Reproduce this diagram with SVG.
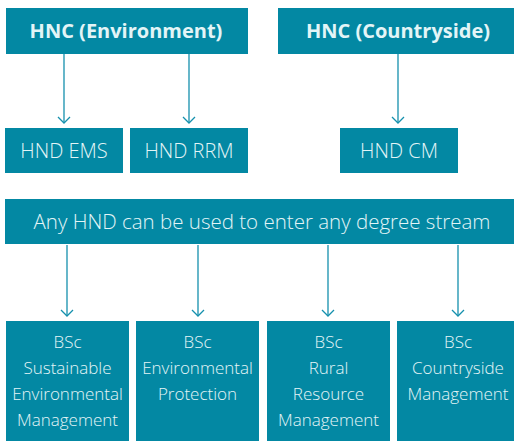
<svg xmlns="http://www.w3.org/2000/svg" width="514" height="441" viewBox="0 0 514 441">
<defs>
<style>
.box{fill:#0388a3}
.t{font-family:"Open Sans","Noto Sans","Liberation Sans",sans-serif;fill:#e3f5f7;text-anchor:middle;font-size:20px;font-weight:300}
.b{font-weight:bold;font-size:20px}
.s{font-size:17px}
.c{stroke:#1590ad;stroke-width:1.3;fill:none}
</style>
</defs>
<rect width="514" height="441" fill="#ffffff"/>
<g id="connectors">
<path class="c" d="M64,54 V123"/>
<path class="c" d="M58,117 L64,123 L70,117"/>
<path class="c" d="M189,54 V123"/>
<path class="c" d="M183,117 L189,123 L195,117"/>
<path class="c" d="M398,54 V123"/>
<path class="c" d="M392,117 L398,123 L404,117"/>
<path class="c" d="M67,245 V316"/>
<path class="c" d="M61,310 L67,316 L73,310"/>
<path class="c" d="M198,245 V316"/>
<path class="c" d="M192,310 L198,316 L204,310"/>
<path class="c" d="M328,245 V316"/>
<path class="c" d="M322,310 L328,316 L334,310"/>
<path class="c" d="M458,245 V316"/>
<path class="c" d="M452,310 L458,316 L464,310"/>
</g>
<g id="hnc-env"><rect class="box" x="6" y="8" width="242" height="46"/><text class="t b" x="126" y="38">HNC (Environment)</text></g>
<g id="hnc-country"><rect class="box" x="278" y="8" width="236" height="46"/><text class="t b" x="398" y="38">HNC (Countryside)</text></g>
<g id="hnd-ems"><rect class="box" x="5" y="128" width="118" height="45"/><text class="t" x="64" y="158">HND EMS</text></g>
<g id="hnd-rrm"><rect class="box" x="130" y="128" width="118" height="45"/><text class="t" x="189" y="158">HND RRM</text></g>
<g id="hnd-cm"><rect class="box" x="340" y="128" width="118" height="45"/><text class="t" x="399" y="158">HND CM</text></g>
<g id="any-hnd"><rect class="box" x="5" y="199" width="509" height="45"/><text class="t" x="262" y="229" style="font-size:20.5px">Any HND can be used to enter any degree stream</text></g>
<g id="bsc-sem"><rect class="box" x="6" y="321" width="123" height="120"/><text class="t s" x="67.5"><tspan x="67.5" y="348">BSc</tspan><tspan x="67.5" y="374">Sustainable</tspan><tspan x="67.5" y="400">Environmental</tspan><tspan x="67.5" y="426">Management</tspan></text></g>
<g id="bsc-ep"><rect class="box" x="136" y="321" width="123" height="120"/><text class="t s" x="197.5"><tspan x="197.5" y="348">BSc</tspan><tspan x="197.5" y="374">Environmental</tspan><tspan x="197.5" y="400">Protection</tspan></text></g>
<g id="bsc-rrm"><rect class="box" x="267" y="321" width="123" height="120"/><text class="t s" x="328.5"><tspan x="328.5" y="348">BSc</tspan><tspan x="328.5" y="374">Rural</tspan><tspan x="328.5" y="400">Resource</tspan><tspan x="328.5" y="426">Management</tspan></text></g>
<g id="bsc-cm"><rect class="box" x="397" y="321" width="117" height="120"/><text class="t s" x="458"><tspan x="458" y="348">BSc</tspan><tspan x="458" y="374">Countryside</tspan><tspan x="458" y="400">Management</tspan></text></g>
</svg>
